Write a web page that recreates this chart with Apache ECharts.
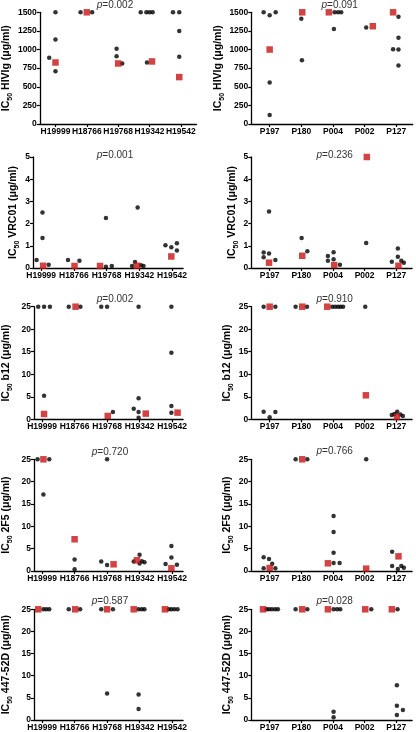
<!DOCTYPE html>
<html><head><meta charset="utf-8">
<script src="https://cdn.jsdelivr.net/npm/echarts@6/dist/echarts.min.js"></script>
<style>html,body{margin:0;padding:0;background:#fff}#c{width:416px;height:732px}</style>
</head><body><div id="c"></div>
<script>
// ---------- categories ----------
const leftCats = ['H19999', 'H18766', 'H19768', 'H19342', 'H19542'];
const rightCats = ['P197', 'P180', 'P004', 'P002', 'P127'];

// ---------- y-axis tick settings ----------
const hivigTicks = [0, 250, 500, 750, 1000, 1250, 1500];
const vrc01Ticks = [0, 1, 2, 3, 4, 5];
const mabTicks = [0, 5, 10, 15, 20, 25];

// ---------- p values ----------
const pValues = ['0.002', '0.091', '0.001', '0.236', '0.002', '0.910', '0.720', '0.766', '0.587', '0.028'];

// ---------- data: [categoryIndex, jitter, IC50] ----------
// HIVIg, left (H-donors)
const hivigLeftBlack = [[0,-0.2,889],[0,0,1500],[0,0,1135],[0,0,710],
  [1,-0.2,1500],[1,0.17,1500],
  [2,-0.05,1010],[2,-0.05,911],[2,0.13,813],
  [3,-0.28,1500],[3,-0.1,1500],[3,0,1500],[3,0.1,1500],[3,-0.08,826],
  [4,-0.25,1500],[4,-0.05,1500],[4,-0.05,1250],[4,-0.05,902]];
const hivigLeftRed = [[0,0,826],[1,0,1500],[2,0,813],[3,0.08,840],[4,-0.05,630]];
// HIVIg, right (P-donors)
const hivigRightBlack = [[0,-0.19,1500],[0,0,1460],[0,0.19,1500],[0,0,558],[0,0,120],
  [1,0,1415],[1,0.02,857],
  [2,0.05,1500],[2,0.16,1500],[2,0.26,1500],[2,0.03,1277],
  [3,0.05,1295],
  [4,0.07,1440],[4,0.07,1157],[4,-0.1,1005],[4,0.07,1000],[4,0.07,786]];
const hivigRightRed = [[0,0,1000],[1,0.03,1500],[2,-0.13,1500],[3,0.26,1313],[4,-0.1,1500]];
// VRC01
const vrc01LeftBlack = [[0,-0.14,0.36],[0,0.04,2.5],[0,0.04,1.35],[0,0.23,0.15],
  [1,-0.18,0.36],[1,0.17,0.33],
  [2,-0.02,2.25],[2,-0.02,0.06],[2,0.16,0.09],
  [3,-0.22,0.09],[3,-0.13,0.27],[3,-0.05,2.72],[3,0.05,0.12],[3,0.13,0.09],
  [4,-0.2,1.03],[4,-0.02,0.93],[4,0.15,1.12],[4,0.15,0.79]];
const vrc01LeftRed = [[0,0.06,0.1],[1,0.02,0.09],[2,-0.2,0.09],[3,-0.07,0.1],[4,-0.02,0.52]];
const vrc01RightBlack = [[0,-0.19,0.7],[0,-0.19,0.48],[0,-0.02,2.54],[0,-0.02,0.65],[0,0.18,0.36],
  [1,0.01,1.35],[1,0.19,0.76],
  [2,-0.16,0.54],[2,-0.16,0.33],[2,0.02,0.71],[2,0.02,0.39],[2,0.22,0.15],
  [3,0.05,1.13],
  [4,-0.14,0.28],[4,0.05,0.88],[4,0.05,0.51],[4,0.16,0.33],[4,0.24,0.24]];
const vrc01RightRed = [[0,-0.02,0.24],[1,0.03,0.55],[2,0.04,0.13],[3,0.07,5.0],[4,0.07,0.1]];
// b12
const b12LeftBlack = [[0,-0.12,25],[0,0.06,25],[0,0.24,25],[0,0.06,5.25],
  [1,-0.18,25],[1,0.18,25],
  [2,-0.18,25],[2,0,25],[2,0.18,1.63],
  [3,-0.03,25],[3,-0.18,2.37],[3,-0.03,4.66],[3,-0.03,1.63],[3,-0.03,0.37],
  [4,-0.02,25],[4,-0.02,14.8],[4,-0.02,2.96],[4,-0.02,1.48]];
const b12LeftRed = [[0,0.06,1.18],[1,0.03,25],[2,0.02,0.74],[3,0.19,1.26],[4,0.17,1.48]];
const b12RightBlack = [[0,-0.19,25],[0,0.18,25],[0,-0.19,1.7],[0,0,0.44],[0,0.18,1.63],
  [1,-0.18,25],[1,0.18,25],
  [2,-0.02,25],[2,0.07,25],[2,0.16,25],[2,0.24,25],[2,0.32,25],
  [3,0.02,25],
  [4,-0.14,0.96],[4,-0.06,1.18],[4,0.03,1.7],[4,0.13,1.04],[4,0.21,0.74]];
const b12RightRed = [[0,0,25],[1,0.03,25],[2,-0.18,25],[3,0.04,5.33],[4,0.02,0.52]];
// 2F5
const f5LeftBlack = [[0,-0.14,25],[0,0.22,25],[0,0.04,17.1],
  [1,0,2.6],[1,0,0.37],
  [2,-0.18,2.1],[2,0,25],[2,0,1.34],
  [3,-0.18,2.1],[3,0,3.66],[3,0,1.7],[3,0.07,2.16],[3,0.15,1.94],
  [4,-0.2,1.57],[4,-0.02,5.6],[4,-0.02,3.0],[4,0.15,1.42]];
const f5LeftRed = [[0,0.04,25],[1,0,7.1],[2,0.2,1.5],[3,-0.08,2.4],[4,-0.02,0.6]];
const f5RightBlack = [[0,-0.19,3.06],[0,-0.19,0.6],[0,-0.02,2.69],[0,0.08,1.64],[0,0.18,0.6],
  [1,-0.18,25],[1,0.19,25],
  [2,0.02,12.3],[2,0.02,8.73],[2,0.02,4.1],[2,0.02,1.8],[2,0.21,1.8],
  [3,0.05,25],
  [4,-0.13,4.33],[4,-0.13,1.12],[4,0.05,0.45],[4,0.16,1.12],[4,0.24,0.75]];
const f5RightRed = [[0,0,0.67],[1,0.03,25],[2,-0.16,1.72],[3,0.05,0.52],[4,0.07,3.28]];
// 447-52D
const d447LeftBlack = [[0,0.04,25],[0,0.13,25],[0,0.22,25],
  [1,-0.18,25],[1,0.17,25],
  [2,-0.18,25],[2,0.18,25],[2,0,5.97],
  [3,-0.03,25],[3,0.07,25],[3,0.15,25],[3,-0.03,5.75],[3,-0.03,2.46],
  [4,-0.1,25],[4,-0.02,25],[4,0.07,25],[4,0.17,25]];
const d447LeftRed = [[0,-0.12,25],[1,0.02,25],[2,0,25],[3,-0.18,25],[4,-0.22,25]];
const d447RightBlack = [[0,-0.1,25],[0,-0.02,25],[0,0.07,25],[0,0.17,25],[0,0.26,25],
  [1,-0.18,25],[1,0.19,25],
  [2,0.02,25],[2,0.13,25],[2,0.23,25],[2,0.02,1.87],[2,0.02,0.6],
  [3,0.21,25],
  [4,0.04,25],[4,0.02,7.84],[4,0.02,3.2],[4,0.02,1.12],[4,0.21,2.24]];
const d447RightRed = [[0,-0.21,25],[1,0.03,25],[2,-0.16,25],[3,0.02,25],[4,-0.14,25]];

// ---------- layout (pixels) ----------
const FONT = '"Liberation Sans", Arial, Helvetica, sans-serif';
const rowTops = [12.3, 157, 306.7, 459.3, 609.3];
const rowHeights = [111.7, 111, 112.6, 111.7, 111.7];
const colLeft = [33, 251.3];
const colRange = [[[0.5, 5.5], [0.42, 5.52]], [[0.75, 5.34], [0.42, 5.5]]];
const colSpacing = [32.7, 31.65];
const nameGaps = [[21, 19], [14, 7], [22, 12], [22, 12], [22, 12]];
const pPos = [[115, 5], [339.7, 5], [115, 155], [334.7, 155], [115, 299], [334.7, 299], [110, 452], [334.7, 451], [110, 601], [334.7, 601]];

const rows = [
  {ab: 'HIVIg', ticks: hivigTicks, sets: [[hivigLeftBlack, hivigLeftRed], [hivigRightBlack, hivigRightRed]]},
  {ab: 'VRC01', ticks: vrc01Ticks, sets: [[vrc01LeftBlack, vrc01LeftRed], [vrc01RightBlack, vrc01RightRed]]},
  {ab: 'b12', ticks: mabTicks, sets: [[b12LeftBlack, b12LeftRed], [b12RightBlack, b12RightRed]]},
  {ab: '2F5', ticks: mabTicks, sets: [[f5LeftBlack, f5LeftRed], [f5RightBlack, f5RightRed]]},
  {ab: '447-52D', ticks: mabTicks, sets: [[d447LeftBlack, d447LeftRed], [d447RightBlack, d447RightRed]]}
];

const grid = [], xAxis = [], yAxis = [], series = [], graphic = [];
const toXY = d => [d[0] + 1 + d[1], d[2]];

rows.forEach((row, r) => {
  [0, 1].forEach(c => {
    const idx = r * 2 + c;
    const cats = c === 0 ? leftCats : rightCats;
    const range = colRange[r === 0 ? 0 : 1][c];
    const width = (range[1] - range[0]) * colSpacing[c];
    grid.push({left: colLeft[c], top: rowTops[r], width: width, height: rowHeights[r], containLabel: false});
    xAxis.push({
      type: 'value', gridIndex: idx, min: range[0], max: range[1],
      splitLine: {show: false},
      axisLine: {show: true, onZero: false, lineStyle: {color: '#000', width: 1.3}},
      axisTick: {show: true, customValues: [1, 2, 3, 4, 5], length: 3, lineStyle: {color: '#000', width: 1.2}},
      axisLabel: {show: true, customValues: [1, 2, 3, 4, 5], margin: 3,
        formatter: v => cats[Math.round(v) - 1] || '',
        color: '#000', fontWeight: 'bold', fontSize: 8.5, fontFamily: FONT}
    });
    const t = row.ticks;
    yAxis.push({
      type: 'value', gridIndex: idx, min: t[0], max: t[t.length - 1], interval: t[1] - t[0],
      splitLine: {show: false},
      axisLine: {show: true, lineStyle: {color: '#000', width: 1.3}},
      axisTick: {show: true, length: 3, lineStyle: {color: '#000', width: 1.2}},
      axisLabel: {margin: 3, color: '#000', fontWeight: 'bold', fontSize: 8.5, fontFamily: FONT,
        formatter: v => String(v)},
      name: '{b|IC}{s|50}{b| ' + row.ab + ' (μg/ml)}',
      nameLocation: 'middle', nameRotate: 90, nameGap: nameGaps[r][c],
      nameTextStyle: {
        rich: {
          b: {fontSize: 10.5, fontWeight: 'bold', color: '#000', fontFamily: FONT, lineHeight: 13, verticalAlign: 'bottom'},
          s: {fontSize: 7, fontWeight: 'bold', color: '#000', fontFamily: FONT, lineHeight: 13, verticalAlign: 'bottom', padding: [0, 0, -2, 0]}
        }
      }
    });
    const [black, red] = row.sets[c];
    series.push({
      type: 'scatter', xAxisIndex: idx, yAxisIndex: idx, clip: false,
      symbol: 'circle', symbolSize: 4.5, itemStyle: {color: '#000'},
      data: black.map(toXY), silent: true, z: 2
    });
    series.push({
      type: 'scatter', xAxisIndex: idx, yAxisIndex: idx, clip: false,
      symbol: 'rect', symbolSize: 6.5, itemStyle: {color: '#c81414'},
      data: red.map(toXY), silent: true, z: 3
    });
    graphic.push({
      type: 'text', x: pPos[idx][0], y: pPos[idx][1],
      style: {
        text: '{i|p}{n|=' + pValues[idx] + '}',
        align: 'center', verticalAlign: 'middle',
        rich: {
          i: {fontStyle: 'italic', fontSize: 10, fill: '#333', fontFamily: FONT},
          n: {fontSize: 10, fill: '#333', fontFamily: FONT}
        }
      }
    });
  });
});

const chart = echarts.init(document.getElementById('c'), null, {renderer: 'canvas'});
chart.setOption({animation: false, backgroundColor: '#fff', grid, xAxis, yAxis, series, graphic});
</script>
</body></html>
